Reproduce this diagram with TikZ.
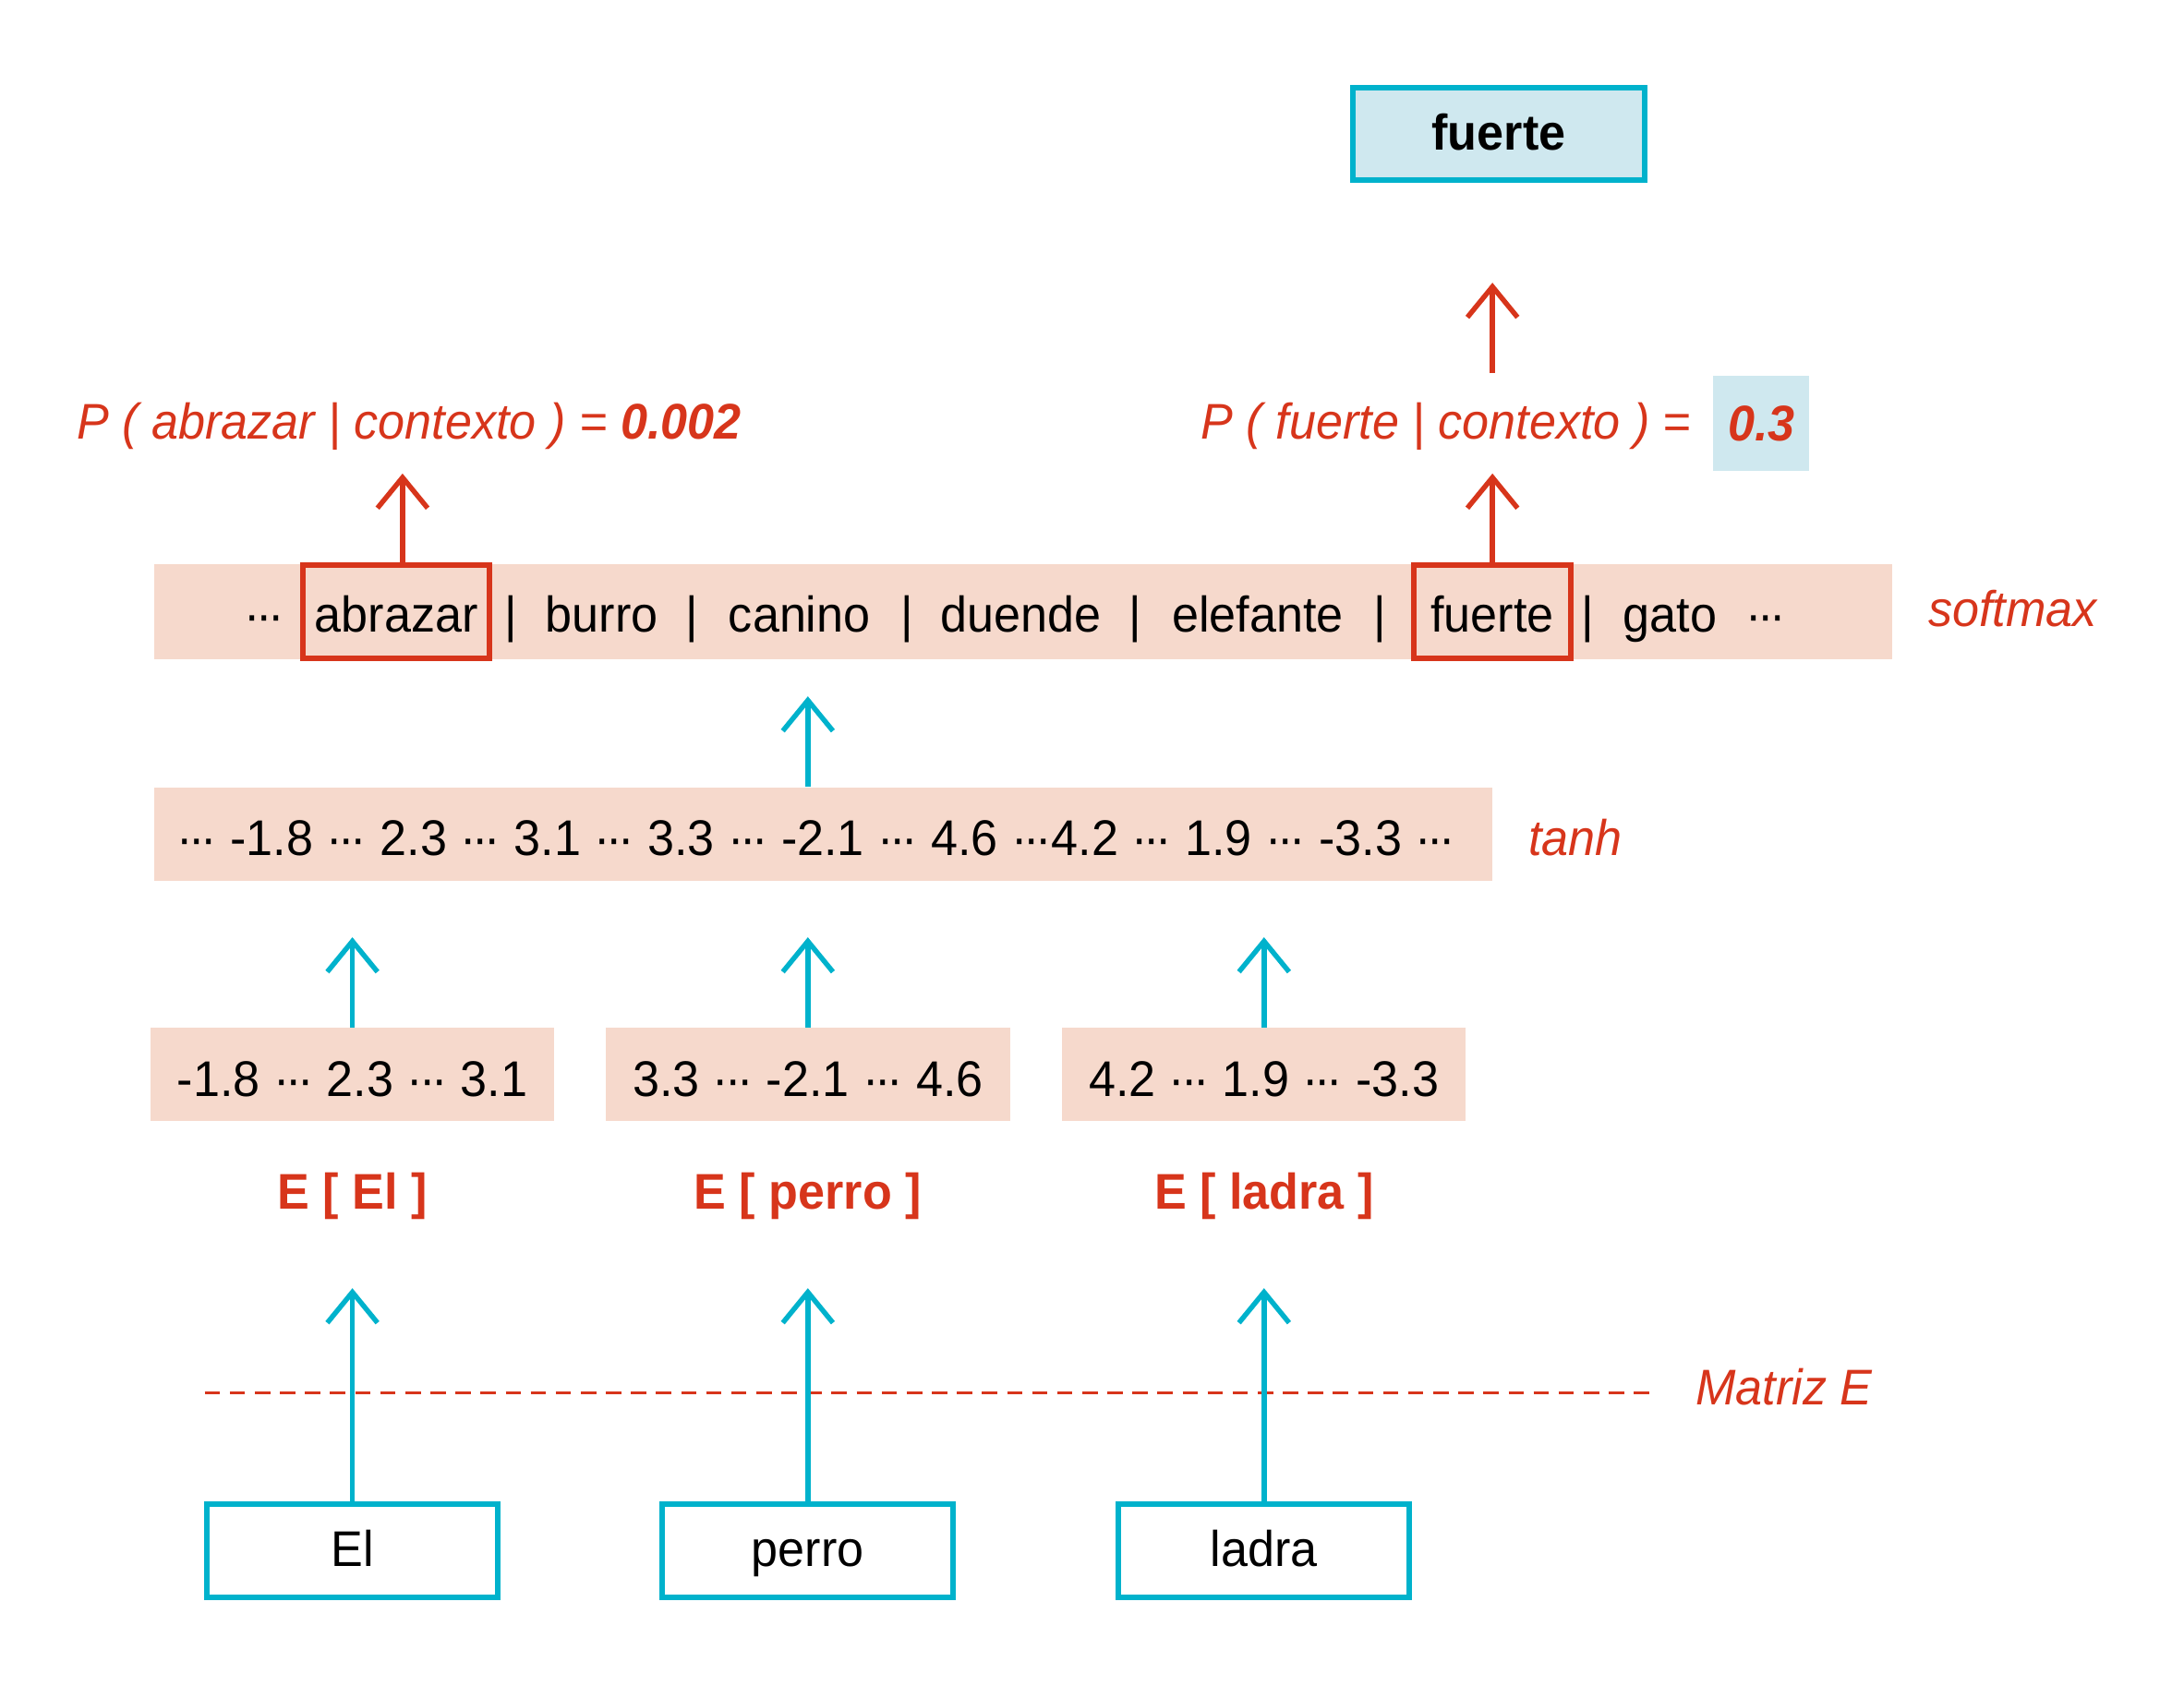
\documentclass[tikz,border=0pt]{standalone}
\usepackage{fontspec}
\setmainfont{Liberation Sans}[FakeStretch=0.96]
\usetikzlibrary{arrows.meta}
\definecolor{myred}{HTML}{D7351B}
\definecolor{mycyan}{HTML}{00B2CC}
\definecolor{mylblue}{HTML}{CFE8EF}
\definecolor{mypeach}{HTML}{F6D9CC}
\newcommand\mydots{\mbox{·\kern-0.08em·\kern-0.08em·}}
\begin{document}
\begin{tikzpicture}[x=0.5pt,y=-0.5pt,
  txt/.style={font=\fontsize{18}{22}\selectfont, inner sep=0pt},
  redlbl/.style={txt, text=myred, font=\fontsize{18}{22}\selectfont\itshape},
  elbl/.style={txt, text=myred, font=\fontsize{18}{22}\selectfont\bfseries, anchor=base},
  band/.style={fill=mypeach, draw=none, inner sep=0pt, anchor=north west},
  embox/.style={fill=mypeach, draw=none, inner sep=0pt, minimum width=145pt, minimum height=33.5pt},
  inbox/.style={draw=mycyan, line width=2pt, fill=white, minimum width=104.5pt, minimum height=33.5pt, inner sep=0pt, text height=14pt, text depth=2.5pt},
  selbox/.style={draw=myred, line width=2pt, inner sep=0pt, minimum width=67pt, minimum height=33.5pt},
  redarr/.style={draw=myred, line width=1.8pt, -{Straight Barb[length=11pt,width=18pt]}},
  cyanarr/.style={draw=mycyan, line width=1.8pt, -{Straight Barb[length=11pt,width=18pt]}},
  word/.style={txt, anchor=base}
]
\useasboundingbox (0,0) rectangle (1568,1210);

% top output box
\node[draw=mycyan, line width=2pt, fill=mylblue, minimum width=104.5pt, minimum height=33pt, inner sep=0pt, txt, font=\fontsize{18}{22}\selectfont\bfseries, text height=14pt, text depth=2.5pt] (out) at (1076,96) {fuerte};

% probability texts
\node[redlbl, anchor=base west] (pabr) at (55,315) {P ( abrazar | contexto ) = \textbf{0.002}};
\node[redlbl, anchor=base west] (pfue) at (862,315) {P ( fuerte | contexto ) =};
\node[fill=mylblue, minimum width=34.5pt, minimum height=34pt, inner sep=0pt, text=myred, font=\fontsize{18}{22}\selectfont\bfseries\itshape] (pval) at (1264.5,304) {0.3};

% softmax band
\node[band, minimum width=624pt, minimum height=34pt] (smband) at (110,405) {};
\node[word] (w1) at (190,454) {\mydots};
\node[word] (w2) at (284.5,454) {abrazar};
\node[word] (w3) at (367,454) {|};
\node[word] (w4) at (432,454) {burro};
\node[word] (w5) at (497,454) {|};
\node[word] (w6) at (574,454) {canino};
\node[word] (w7) at (651,454) {|};
\node[word] (w8) at (733,454) {duende};
\node[word] (w9) at (815,454) {|};
\node[word] (w10) at (903,454) {elefante};
\node[word] (w11) at (991,454) {|};
\node[word] (w12) at (1071.5,454) {fuerte};
\node[word] (w13) at (1140,454) {|};
\node[word] (w14) at (1199,454) {gato};
\node[word] (w15) at (1268,454) {\mydots};
\node[selbox] (abrbox) at (284.5,439) {};
\node[selbox, minimum width=56.5pt] (fuebox) at (1071.5,439) {};
\node[redlbl, anchor=base west] (smlbl) at (1384,450) {softmax};

% tanh band
\node[band, minimum width=480.5pt, minimum height=33.5pt] (tband) at (110,565) {};
\node[word] (ttxt) at (586,614) {\mydots{} -1.8 \mydots{} 2.3 \mydots{} 3.1 \mydots{} 3.3 \mydots{} -2.1 \mydots{} 4.6 \mydots4.2 \mydots{} 1.9 \mydots{} -3.3 \mydots};
\node[redlbl, anchor=base west] (tlbl) at (1097,614) {tanh};

% embeddings
\node[embox] (e1) at (253,771.5) {};
\node[embox] (e2) at (580,771.5) {};
\node[embox] (e3) at (907.5,771.5) {};
\node[word] (e1t) at (253,787) {-1.8 \mydots{} 2.3 \mydots{} 3.1};
\node[word] (e2t) at (580,787) {3.3 \mydots{} -2.1 \mydots{} 4.6};
\node[word] (e3t) at (907.5,787) {4.2 \mydots{} 1.9 \mydots{} -3.3};
\node[elbl] (l1) at (253,868) {E [ El ]};
\node[elbl] (l2) at (580,868) {E [ perro ]};
\node[elbl] (l3) at (907.5,868) {E [ ladra ]};

% matrix line
\coordinate (dl1) at (147,1000);
\coordinate (dl2) at (1190,1000);
\draw[myred, line width=1pt, dash pattern=on 5.5pt off 3.5pt] (dl1) -- (dl2);
\node[redlbl, anchor=base west] (mlbl) at (1217,1009) {Matriz E};

% inputs
\node[inbox, txt] (i1) at (253,1113.5) {El};
\node[inbox, txt] (i2) at (580,1113.5) {perro};
\node[inbox, txt] (i3) at (907.5,1113.5) {ladra};

% arrow tips (free ends)
\coordinate (t1) at (253,925);
\coordinate (t2) at (580,925);
\coordinate (t3) at (907.5,925);
\coordinate (u1) at (253,673);
\coordinate (u2) at (580,673);
\coordinate (u3) at (907.5,673);
\coordinate (u4) at (580,500);
\coordinate (v1) at (289,340);
\coordinate (v2) at (1071.5,340);
\coordinate (v3s) at (1071.5,268);
\coordinate (v3) at (1071.5,203);

\draw[cyanarr] (i1.north) -- (t1);
\draw[cyanarr] (i2.north) -- (t2);
\draw[cyanarr] (i3.north) -- (t3);
\draw[cyanarr] (e1.north) -- (u1);
\draw[cyanarr] (e2.north) -- (u2);
\draw[cyanarr] (e3.north) -- (u3);
\draw[cyanarr] (tband.north -| u4) -- (u4);
\draw[redarr] (abrbox.north -| v1) -- (v1);
\draw[redarr] (fuebox.north) -- (v2);
\draw[redarr] (v3s) -- (v3);
\end{tikzpicture}
\end{document}
